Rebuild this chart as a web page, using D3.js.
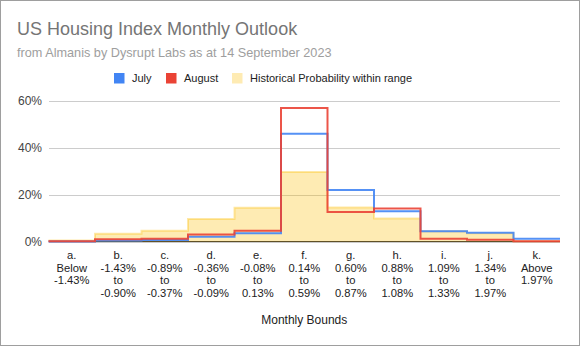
<!DOCTYPE html>
<html>
<head>
<meta charset="utf-8">
<script src="https://cdn.jsdelivr.net/npm/d3@7"></script>
<style>
  html, body { margin: 0; padding: 0; background: #fff; }
  svg { display: block; font-family: Arial, "Liberation Sans", sans-serif; }
</style>
</head>
<body>
<svg id="chart" width="580" height="346"></svg>
<script>
const categories = ["a.", "b.", "c.", "d.", "e.", "f.", "g.", "h.", "i.", "j.", "k."];
const boundLabels = [
  ["Below", "-1.43%"],
  ["-1.43%", "to", "-0.90%"],
  ["-0.89%", "to", "-0.37%"],
  ["-0.36%", "to", "-0.09%"],
  ["-0.08%", "to", "0.13%"],
  ["0.14%", "to", "0.59%"],
  ["0.60%", "to", "0.87%"],
  ["0.88%", "to", "1.08%"],
  ["1.09%", "to", "1.33%"],
  ["1.34%", "to", "1.97%"],
  ["Above", "1.97%"]
];
const july       = [0.001, 0.005, 0.007, 0.021, 0.036, 0.460, 0.220, 0.130, 0.045, 0.038, 0.013];
const august     = [0.002, 0.010, 0.013, 0.031, 0.047, 0.570, 0.127, 0.142, 0.013, 0.0085, 0.002];
const historical = [0.005, 0.034, 0.047, 0.097, 0.145, 0.297, 0.146, 0.099, 0.045, 0.036, 0.002];
const yTicks = [0, 0.2, 0.4, 0.6];
const seriesNames = ["July", "August", "Historical Probability within range"];

const svg = d3.select("#chart");
const W = 580, H = 346;

// card border
svg.append("rect").attr("x", 0.5).attr("y", 0.5).attr("width", W - 1).attr("height", H - 1)
  .attr("fill", "#fff").attr("stroke", "#9e9e9e").attr("stroke-width", 1);

// titles
svg.append("text").attr("x", 17).attr("y", 34.5).attr("font-size", 18).attr("fill", "#757575")
  .text("US Housing Index Monthly Outlook");
svg.append("text").attr("x", 17).attr("y", 56.5).attr("font-size", 12.7).attr("fill", "#9e9e9e")
  .text("from Almanis by Dysrupt Labs as at 14 September 2023");

const x = d3.scaleBand().domain(categories).range([48.5, 560]).padding(0);
const y = d3.scaleLinear().domain([0, 0.6]).range([241.7, 101]);

// gridlines
svg.append("g").selectAll("line").data(yTicks.filter(d => d > 0)).join("line")
  .attr("x1", 49).attr("x2", 560)
  .attr("y1", d => Math.round(y(d)) + 0.5).attr("y2", d => Math.round(y(d)) + 0.5)
  .attr("stroke", "#cccccc").attr("stroke-width", 1);

// y axis labels
const yAxis = d3.axisLeft(y).tickValues(yTicks).tickFormat(d3.format(".0%")).tickSize(0).tickPadding(0);
const gy = svg.append("g").attr("transform", "translate(42,0)").call(yAxis);
gy.select(".domain").remove();
gy.selectAll("text").attr("font-size", 12).attr("fill", "#444").attr("font-family", "Arial, 'Liberation Sans', sans-serif");

// baseline
svg.append("line").attr("x1", 49).attr("x2", 560).attr("y1", y(0)).attr("y2", y(0))
  .attr("stroke", "#333").attr("stroke-width", 1.2);

function stepPoints(vals) {
  const pts = vals.map((v, i) => [x(categories[i]), v]);
  pts.push([x(categories[categories.length - 1]) + x.bandwidth(), vals[vals.length - 1]]);
  return pts;
}

const area = d3.area().curve(d3.curveStepAfter).x(d => d[0]).y0(y(0)).y1(d => y(d[1]));
const line = d3.line().curve(d3.curveStepAfter).x(d => d[0]).y(d => y(d[1]));

// historical area
svg.append("path").datum(stepPoints(historical)).attr("d", area)
  .attr("fill", "#fbbc04").attr("fill-opacity", 0.3);
svg.append("path").datum(stepPoints(historical)).attr("d", line)
  .attr("fill", "none").attr("stroke", "#fbbc04").attr("stroke-opacity", 0.35).attr("stroke-width", 2);

// July
svg.append("path").datum(stepPoints(july)).attr("d", line)
  .attr("fill", "none").attr("stroke", "#4285f4").attr("stroke-width", 2).attr("stroke-opacity", 0.9);
// August
svg.append("path").datum(stepPoints(august)).attr("d", line)
  .attr("fill", "none").attr("stroke", "#ea4335").attr("stroke-width", 2).attr("stroke-opacity", 0.9);

// x labels
const gx = svg.append("g");
categories.forEach((c, i) => {
  const cx = x(c) + x.bandwidth() / 2;
  const lines = [c].concat(boundLabels[i]);
  const t = gx.append("text").attr("text-anchor", "middle").attr("font-size", 11.2).attr("fill", "#222");
  lines.forEach((ln, j) => {
    t.append("tspan").attr("x", cx).attr("y", 259 + j * 12.6).text(ln);
  });
});

svg.append("text").attr("x", (48.5 + 560) / 2).attr("y", 324).attr("text-anchor", "middle")
  .attr("font-size", 12).attr("fill", "#222").text("Monthly Bounds");

// legend
const legendColors = ["#4285f4", "#ea4335", "#fbbc04"];
const legendX = [114, 166, 232];
const lg = svg.append("g");
seriesNames.forEach((n, i) => {
  lg.append("rect").attr("x", legendX[i]).attr("y", 73).attr("width", 10.5).attr("height", 10.5)
    .attr("fill", legendColors[i]).attr("fill-opacity", i === 2 ? 0.3 : 1);
  lg.append("text").attr("x", legendX[i] + 18).attr("y", 82).attr("font-size", 11).attr("fill", "#222").text(n);
});
</script>
</body>
</html>
